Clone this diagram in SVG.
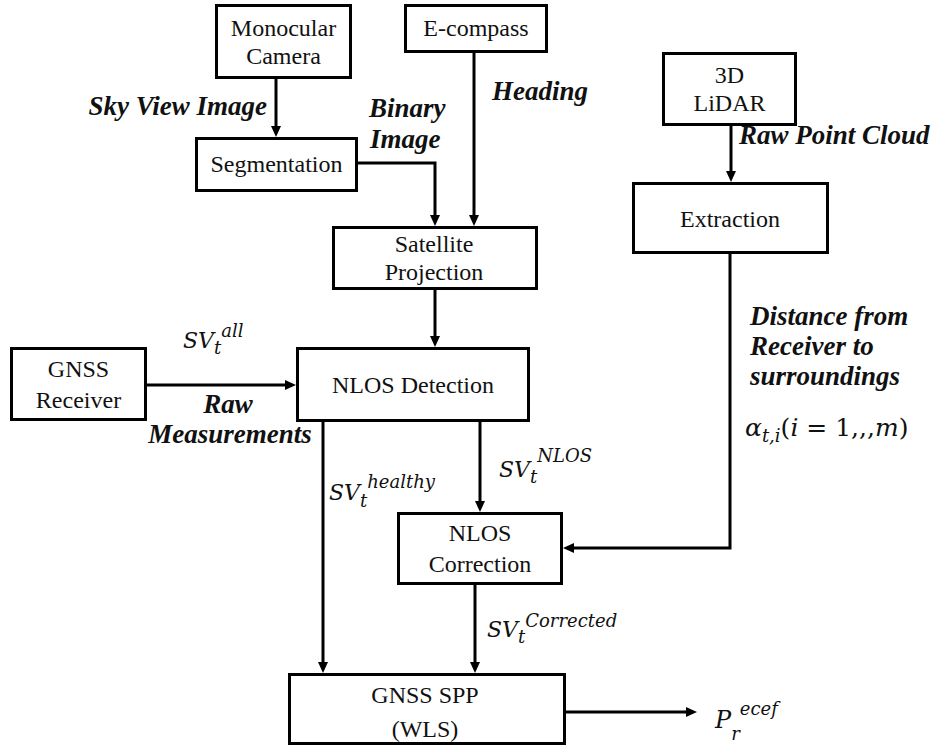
<svg xmlns="http://www.w3.org/2000/svg" width="936" height="749" viewBox="0 0 936 749">
<style>
.box{fill:#fff;stroke:#000;stroke-width:3}
.t{font-family:"Liberation Serif","Times New Roman",serif;font-size:24px;text-anchor:middle;fill:#111}
.bi{font-family:"Liberation Serif","Times New Roman",serif;font-size:27px;font-weight:bold;font-style:italic;fill:#111}
.m{font-family:"DejaVu Serif","Liberation Serif",serif;font-style:italic;font-size:22px;fill:#111}
.s{font-size:18px}
.up{font-style:normal}
.conn path{fill:none;stroke:#000;stroke-width:3;marker-end:url(#ah)}
</style>
<defs>
<marker id="ah" markerUnits="userSpaceOnUse" markerWidth="11" markerHeight="10" refX="2" refY="5" orient="auto">
<path d="M0,0 L11,5 L0,10 z" fill="#000"/>
</marker>
</defs>
<rect width="936" height="749" fill="#fff"/>
<g class="conn" id="connectors">
<path d="M276,79 V128"/>
<path d="M474,53 V217"/>
<path d="M358,163 H435 V217"/>
<path d="M435,290 V338"/>
<path d="M147,385 H287"/>
<path d="M323,422 V664"/>
<path d="M480,422 V503"/>
<path d="M475,585 V664"/>
<path d="M566,712 H688"/>
<path d="M731,126 V173"/>
<path d="M730,254 V548 H572"/>
</g>
<g id="monocular-camera">
<rect class="box" x="216.5" y="5.5" width="134" height="72"/>
<text class="t" x="283.5" y="36">Monocular</text>
<text class="t" x="283.5" y="64">Camera</text>
</g>
<g id="e-compass">
<rect class="box" x="405.5" y="5.5" width="141" height="46"/>
<text class="t" x="476" y="36">E-compass</text>
</g>
<g id="segmentation">
<rect class="box" x="196.5" y="138.5" width="160" height="52"/>
<text class="t" x="276.5" y="172">Segmentation</text>
</g>
<g id="satellite-projection">
<rect class="box" x="333.5" y="227.5" width="203" height="61"/>
<text class="t" x="434" y="252">Satellite</text>
<text class="t" x="434" y="280">Projection</text>
</g>
<g id="lidar">
<rect class="box" x="663.5" y="53.5" width="132" height="71"/>
<text class="t" x="729.5" y="83">3D</text>
<text class="t" x="729.5" y="111">LiDAR</text>
</g>
<g id="extraction">
<rect class="box" x="633.5" y="183.5" width="194" height="69"/>
<text class="t" x="730" y="227">Extraction</text>
</g>
<g id="gnss-receiver">
<rect class="box" x="11.5" y="348.5" width="134" height="71"/>
<text class="t" x="78.5" y="377">GNSS</text>
<text class="t" x="78.5" y="408">Receiver</text>
</g>
<g id="nlos-detection">
<rect class="box" x="297.5" y="348.5" width="231" height="72"/>
<text class="t" x="413" y="393">NLOS Detection</text>
</g>
<g id="nlos-correction">
<rect class="box" x="398.5" y="513.5" width="163" height="70"/>
<text class="t" x="480" y="541">NLOS</text>
<text class="t" x="480" y="572">Correction</text>
</g>
<g id="gnss-spp">
<rect class="box" x="289.5" y="674.5" width="275" height="69"/>
<text class="t" x="425" y="703">GNSS SPP</text>
<text class="t" x="425" y="737">(WLS)</text>
</g>
<g id="labels">
<text class="bi" x="267" y="115" text-anchor="end">Sky View Image</text>
<text class="bi" x="369" y="117">Binary</text>
<text class="bi" x="370" y="148">Image</text>
<text class="bi" x="492" y="100">Heading</text>
<text class="bi" x="739" y="144">Raw Point Cloud</text>
<text class="bi" x="228" y="413" text-anchor="middle">Raw</text>
<text class="bi" x="230" y="443" text-anchor="middle">Measurements</text>
<text class="bi" x="750" y="325">Distance from</text>
<text class="bi" x="750" y="355">Receiver to</text>
<text class="bi" x="750" y="385">surroundings</text>
<text class="m" x="183" y="348">SV<tspan class="s" dy="6">t</tspan><tspan class="s" dy="-17">all</tspan></text>
<text class="m" x="329" y="500">SV<tspan class="s" dy="7">t</tspan><tspan class="s" dy="-19">healthy</tspan></text>
<text class="m" x="499" y="477">SV<tspan class="s" dy="6">t</tspan><tspan class="s" dy="-21">NLOS</tspan></text>
<text class="m" x="487" y="637">SV<tspan class="s" dy="6">t</tspan><tspan class="s" dy="-16">Corrected</tspan></text>
<text class="m" x="745" y="436" style="font-size:25px">α<tspan class="s" dy="6">t,i</tspan><tspan dy="-6" class="up">(</tspan>i<tspan class="up"> = 1,,,</tspan>m<tspan class="up">)</tspan></text>
<text class="m" x="715" y="728" style="font-size:24px">P<tspan class="s" dy="12">r</tspan><tspan class="s" dy="-25">ecef</tspan></text>
</g>
</svg>
